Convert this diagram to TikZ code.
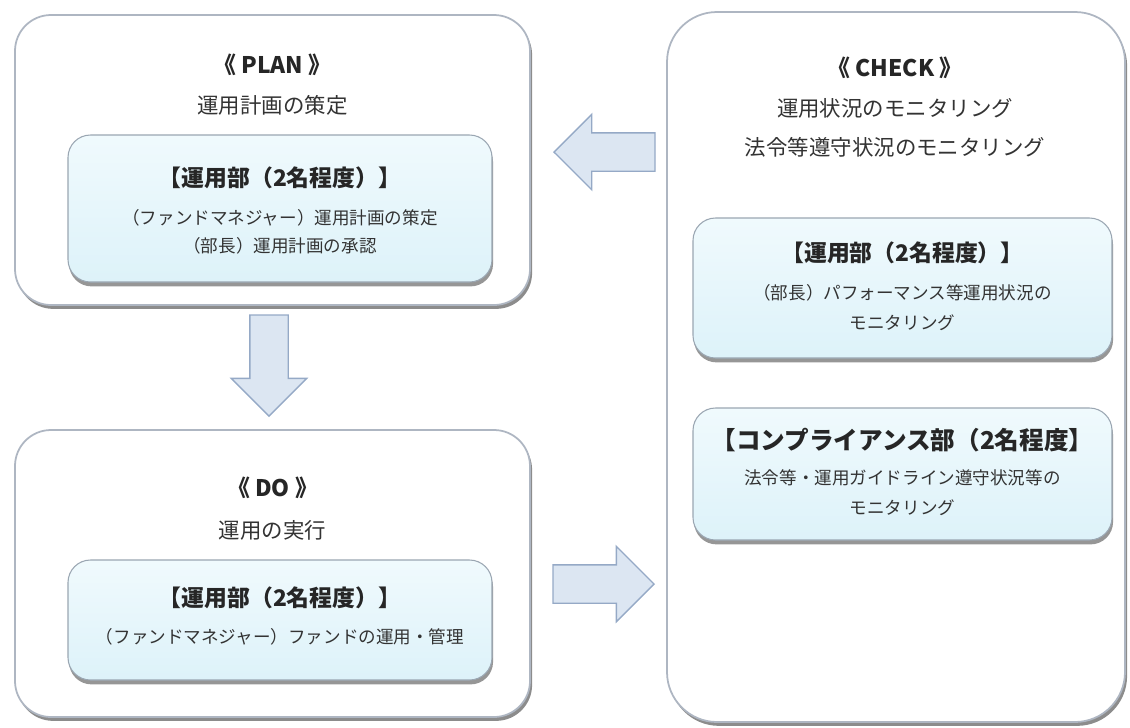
\documentclass[tikz,border=0pt]{standalone}
\usepackage{fontspec}
\setmainfont{Noto Sans CJK JP}
\usetikzlibrary{positioning,shadows,shapes.arrows}

\definecolor{arrowfill}{HTML}{DCE6F2}
\definecolor{arrowline}{HTML}{95A9C6}
\definecolor{boxline}{HTML}{AEB6C2}
\definecolor{innertop}{HTML}{F0FAFD}
\definecolor{innerbot}{HTML}{DDF2F9}
\definecolor{innerline}{HTML}{9AA6B2}
\definecolor{txt}{HTML}{333333}

\tikzset{
  phase/.style={draw=boxline, line width=1pt, fill=white, rounded corners=0.72cm,
    drop shadow={shadow xshift=1.2pt, shadow yshift=-2.2pt, fill=black!60, opacity=0.75}},
  team/.style={draw=innerline, line width=0.6pt, top color=innertop, bottom color=innerbot,
    rounded corners=0.45cm,
    drop shadow={shadow xshift=0.6pt, shadow yshift=-2.5pt, fill=black!55, opacity=0.75}},
  phasehead/.style={font=\bfseries\fontsize{13}{15}\selectfont, text=black!85},
  phasesub/.style={font=\fontsize{12.2}{14}\selectfont, text=txt},
  teamtext/.style={font=\fontsize{10}{12}\selectfont, text=txt},
  bigarrow/.style={single arrow, draw=arrowline, fill=arrowfill, line width=0.8pt,
    minimum height=2.02cm, inner xsep=0pt, inner ysep=0.37cm,
    single arrow head extend=0.37cm, anchor=tip}
}

\begin{document}
\begin{tikzpicture}
    \useasboundingbox (0,0) rectangle (22.6,-14.54);

    % PLAN
    \node[phase, minimum width=10.3cm, minimum height=5.8cm] (plan) at (5.45,-3.2) {};
    \node[phasehead] (planhead) at (5.45,-1.3) {《 PLAN 》};
    \node[phasesub] (plansub) at (5.45,-2.1) {運用計画の策定};
    \node[team, minimum width=8.48cm, minimum height=2.94cm] (planteam) at (5.6,-4.17) {};
    \node[phasehead] (planteamhead) at (5.6,-3.55) {【運用部（2名程度）】};
    \node[teamtext] (planteamone) at (5.6,-4.36) {（ファンドマネジャー）運用計画の策定};
    \node[teamtext] (planteamtwo) at (5.6,-4.92) {（部長）運用計画の承認};

    % DO
    \node[phase, minimum width=10.3cm, minimum height=5.74cm] (do) at (5.45,-11.47) {};
    \node[phasehead] (dohead) at (5.45,-9.75) {《 DO 》};
    \node[phasesub] (dosub) at (5.45,-10.6) {運用の実行};
    \node[team, minimum width=8.48cm, minimum height=2.4cm] (doteam) at (5.6,-12.4) {};
    \node[phasehead] (doteamhead) at (5.6,-11.95) {【運用部（2名程度）】};
    \node[teamtext] (doteamone) at (5.6,-12.74) {（ファンドマネジャー）ファンドの運用・管理};

    % CHECK
    \node[phase, rounded corners=1.0cm, minimum width=9.16cm, minimum height=14.2cm] (check) at (17.92,-7.34) {};
    \node[phasehead] (checkhead) at (17.9,-1.35) {《 CHECK 》};
    \node[phasesub] (checksubone) at (17.9,-2.16) {運用状況のモニタリング};
    \node[phasesub] (checksubtwo) at (17.9,-2.95) {法令等遵守状況のモニタリング};
    \node[team, minimum width=8.38cm, minimum height=2.8cm] (checkteam) at (18.05,-5.76) {};
    \node[phasehead] (checkteamhead) at (18.05,-5.06) {【運用部（2名程度）】};
    \node[teamtext] (checkteamone) at (18.05,-5.86) {（部長）パフォーマンス等運用状況の};
    \node[teamtext] (checkteamtwo) at (18.05,-6.46) {モニタリング};
    \node[team, minimum width=8.38cm, minimum height=2.64cm] (compteam) at (18.05,-9.48) {};
    \node[phasehead, font=\bfseries\fontsize{14}{16}\selectfont] (compteamhead) at (18.05,-8.8) {【コンプライアンス部（2名程度】};
    \node[teamtext] (compteamone) at (18.05,-9.56) {法令等・運用ガイドライン遵守状況等の};
    \node[teamtext] (compteamtwo) at (18.05,-10.16) {モニタリング};

    % block arrows between the phases, placed by their tips
    \node[bigarrow, rotate=180] (checktoplan) at (11.06,-3.04) {};
    \node[bigarrow, rotate=-90] (plantodo) at (5.38,-8.34) {};
    \node[bigarrow] (dotocheck) at (13.1,-11.68) {};
\end{tikzpicture}
\end{document}
